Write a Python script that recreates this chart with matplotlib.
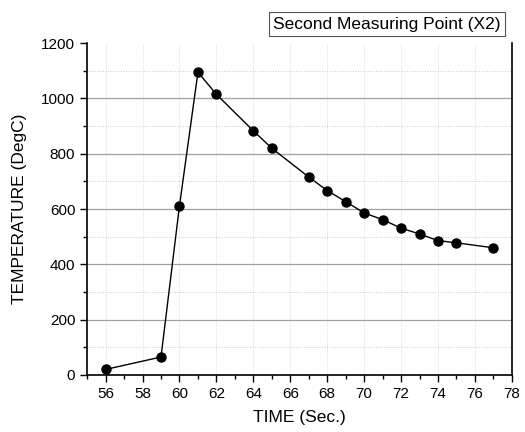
import matplotlib
matplotlib.use("Agg")
import matplotlib.pyplot as plt
from matplotlib.ticker import MultipleLocator

plt.rcParams['font.family'] = ['Liberation Sans', 'DejaVu Sans']

# data
time_s = [56, 59, 60, 61, 62, 64, 65, 67, 68, 69, 70, 71, 72, 73, 74, 75, 77]
temp_c = [20, 65, 612, 1095, 1015, 883, 820, 716, 667, 627, 586, 562, 531, 510, 486, 478, 460]
series_name = "Second Measuring Point (X2)"
x_label = "TIME (Sec.)"
y_label = "TEMPERATURE (DegC)"

fig = plt.figure(figsize=(5.25, 4.32), dpi=100)
ax = fig.add_axes([0.166, 0.132, 0.809, 0.768])

# grid: solid major on y, dotted minor on y, dotted on x
ax.yaxis.set_major_locator(MultipleLocator(200))
ax.yaxis.set_minor_locator(MultipleLocator(100))
ax.xaxis.set_major_locator(MultipleLocator(2))
ax.xaxis.set_minor_locator(MultipleLocator(1))
ax.grid(axis='y', which='major', color='#a0a0a0', lw=0.9, ls='-')
ax.grid(axis='y', which='minor', color='#c8c8c8', lw=0.7, ls=':')
ax.grid(axis='x', which='major', color='#d8d8d8', lw=0.7, ls=':')
ax.set_axisbelow(True)

line, = ax.plot(time_s, temp_c, '-o', color='black', lw=1.0, ms=6.5)

ax.set_xlim(55, 78)
ax.set_ylim(0, 1200)
ax.set_xlabel(x_label, fontsize=12.5, labelpad=6)
ax.set_ylabel(y_label, fontsize=12.5, labelpad=10)

ax.spines['top'].set_visible(False)
for s in ['left', 'bottom', 'right']:
    ax.spines[s].set_linewidth(1.2)
ax.tick_params(which='major', direction='out', length=5, width=1.0, labelsize=11)
ax.tick_params(which='minor', direction='out', length=3, width=1.0)
ax.tick_params(axis='x', pad=4)

# no gridline along the top edge in the reference
fig.canvas.draw()
for tick in ax.yaxis.get_major_ticks():
    if abs(tick.get_loc() - 1200) < 1e-6:
        tick.gridline.set_visible(False)

fig.legend([line], [series_name], loc='upper right',
           bbox_to_anchor=(0.978, 0.992), handlelength=0, handletextpad=0,
           fancybox=False, edgecolor='#555555', framealpha=1,
           fontsize=12.5, borderpad=0.25)
leg = fig.legends[0]
for h in leg.legend_handles:
    h.set_visible(False)
leg.get_frame().set_linewidth(0.8)

fig.savefig("out.png", dpi=100)
